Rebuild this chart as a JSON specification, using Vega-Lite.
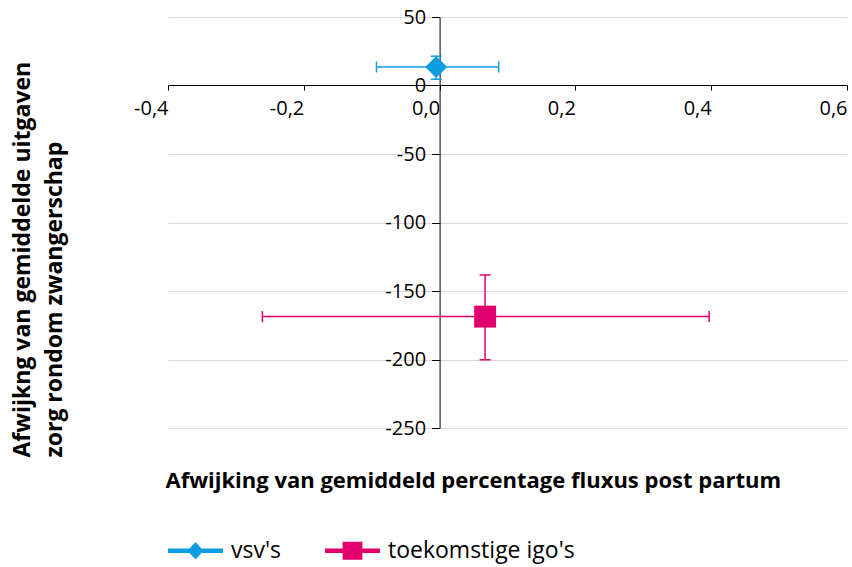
{
  "$schema": "https://vega.github.io/schema/vega-lite/v6.json",
  "autosize": "none",
  "width": 679,
  "height": 411,
  "padding": {"left": 168, "top": 17, "right": 5, "bottom": 139},
  "background": "white",
  "config": {
    "view": {"stroke": null},
    "font": "Open Sans",
    "locale": {"number": {"decimal": ",", "thousands": ".", "grouping": [3], "currency": ["€", ""], "minus": "-"}},
    "axis": {"labelFont": "Open Sans", "titleFont": "Open Sans", "labelColor": "black", "titleColor": "black"},
    "legend": {"labelFont": "Open Sans"}
  },
  "data": {
    "values": [
      {"reeks": "vsv's", "x": -0.005, "y": 13.5, "xlo": -0.093, "xhi": 0.087, "ylo": 4.6, "yhi": 21.4},
      {"reeks": "toekomstige igo's", "x": 0.067, "y": -168.7, "xlo": -0.261, "xhi": 0.397, "ylo": -200.2, "yhi": -138.3}
    ]
  },
  "layer": [
    {
      "mark": {"type": "point", "filled": true, "size": 3025, "opacity": 0},
      "encoding": {
        "x": {"field": "x", "type": "quantitative", "scale": {"domain": [-0.4, 0.6], "nice": false, "zero": false}, "axis": null},
        "y": {"field": "y", "type": "quantitative", "scale": {"domain": [-250, 50], "nice": false, "zero": false}, "axis": null},
        "color": {"field": "reeks", "type": "nominal",
          "scale": {"domain": ["vsv's", "toekomstige igo's"], "range": ["#0c9ce0", "#e2006c"]},
          "legend": {"orient": "none", "legendX": 0, "legendY": 506, "direction": "horizontal", "title": null,
            "labelFontSize": 23, "labelColor": "black", "labelOffset": 8, "labelLimit": 400, "columnPadding": 44,
            "symbolSize": 3025, "symbolStrokeWidth": 0, "symbolOpacity": 1}},
        "shape": {"field": "reeks", "type": "nominal",
          "scale": {"domain": ["vsv's", "toekomstige igo's"],
            "range": ["M-1,-0.085L-0.22,-0.085L0,-0.32L0.22,-0.085L1,-0.085L1,0.085L0.22,0.085L0,0.32L-0.22,0.085L-1,0.085Z",
                      "M-1,-0.085L-0.36,-0.085L-0.36,-0.33L0.36,-0.33L0.36,-0.085L1,-0.085L1,0.085L0.36,0.085L0.36,0.33L-0.36,0.33L-0.36,0.085L-1,0.085Z"]},
          "legend": {"orient": "none", "legendX": 0, "legendY": 506, "direction": "horizontal", "title": null,
            "labelFontSize": 23, "labelColor": "black", "labelOffset": 8, "labelLimit": 400, "columnPadding": 44,
            "symbolSize": 3025, "symbolStrokeWidth": 0, "symbolOpacity": 1}}
      }
    },
    {
      "mark": {"type": "rule", "strokeWidth": 1.5, "opacity": 1},
      "encoding": {
        "x": {"field": "xlo", "type": "quantitative",
          "axis": {"orient": "bottom", "offset": 0, "domain": false, "ticks": false, "labels": false, "grid": false,
            "title": "Afwijking van gemiddeld percentage  fluxus post partum", "titleFontSize": 22, "titleFontWeight": "bold",
            "titleAnchor": "start", "titleAlign": "left", "titleX": -3, "titlePadding": 42}},
        "x2": {"field": "xhi"},
        "y": {"field": "y", "type": "quantitative",
          "axis": {"orient": "left", "offset": 0, "domain": false, "ticks": false, "labels": false, "grid": true,
            "gridColor": "#d9d9d9", "gridWidth": 1, "values": [-250, -200, -150, -100, -50, 0, 50],
            "title": ["Afwijkng van gemiddelde uitgaven", "zorg rondom zwangerschap"], "titleFontSize": 23, "titleFontWeight": "bold",
            "titleLineHeight": 32, "titleAnchor": "start", "titleAlign": "left", "titleY": 440, "titlePadding": 102}},
        "color": {"field": "reeks", "type": "nominal"}
      }
    },
    {
      "mark": {"type": "rule", "strokeWidth": 1.5, "opacity": 1},
      "encoding": {
        "x": {"field": "x", "type": "quantitative", "axis": null},
        "y": {"field": "ylo", "type": "quantitative", "axis": null},
        "y2": {"field": "yhi"},
        "color": {"field": "reeks", "type": "nominal"}
      }
    },
    {
      "transform": [{"fold": ["xlo", "xhi"], "as": ["capk", "capx"]}],
      "mark": {"type": "tick", "orient": "vertical", "size": 11, "thickness": 1.5, "opacity": 1},
      "encoding": {
        "x": {"field": "capx", "type": "quantitative", "axis": null},
        "y": {"field": "y", "type": "quantitative", "axis": null},
        "color": {"field": "reeks", "type": "nominal"}
      }
    },
    {
      "transform": [{"fold": ["ylo", "yhi"], "as": ["capk", "capy"]}],
      "mark": {"type": "tick", "orient": "horizontal", "size": 11, "thickness": 1.5, "opacity": 1},
      "encoding": {
        "x": {"field": "x", "type": "quantitative", "axis": null},
        "y": {"field": "capy", "type": "quantitative", "axis": null},
        "color": {"field": "reeks", "type": "nominal"}
      }
    },
    {
      "transform": [{"filter": "datum.reeks === 'toekomstige igo\\'s'"}],
      "mark": {"type": "point", "filled": true, "size": 480, "opacity": 1, "shape": "square"},
      "encoding": {
        "x": {"field": "x", "type": "quantitative", "axis": null},
        "y": {"field": "y", "type": "quantitative", "axis": null},
        "color": {"field": "reeks", "type": "nominal"}
      }
    },
    {
      "transform": [{"filter": "datum.reeks === 'vsv\\'s'"}],
      "mark": {"type": "point", "filled": true, "size": 480, "opacity": 1, "shape": "diamond"},
      "encoding": {
        "x": {"field": "x", "type": "quantitative",
          "axis": {"orient": "bottom", "offset": -343, "values": [-0.4, -0.2, 0, 0.2, 0.4, 0.6], "format": ".1f",
            "grid": false, "title": null, "domainColor": "black", "domainWidth": 1, "tickColor": "black", "tickSize": 5,
            "labelAlign": "right", "labelBaseline": "top", "labelPadding": 8, "labelFontSize": 20, "labelFlush": false, "labelOverlap": false}},
        "y": {"field": "y", "type": "quantitative",
          "axis": {"orient": "left", "offset": -271.6, "values": [-250, -200, -150, -100, -50, 0, 50], "format": "d",
            "grid": false, "title": null, "domainColor": "black", "domainWidth": 1, "tickColor": "black", "tickSize": 8,
            "labelPadding": 6, "labelFontSize": 20, "labelFlush": false, "labelOverlap": false}},
        "color": {"field": "reeks", "type": "nominal"}
      }
    }
  ],
  "resolve": {"axis": {"x": "independent", "y": "independent"}}
}
